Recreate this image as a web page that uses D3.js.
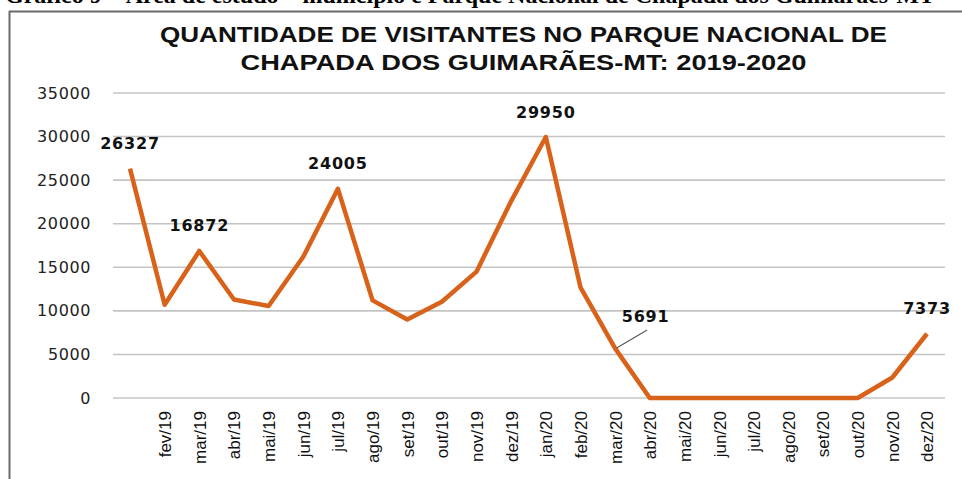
<!DOCTYPE html>
<html>
<head>
<meta charset="utf-8">
<script src="https://cdn.jsdelivr.net/npm/d3@7"></script>
<style>
  body { margin: 0; background: #fff; }
  svg { display: block; }
</style>
</head>
<body>
<svg width="962" height="479"></svg>
<script>
// meses (jan/19 sem rotulo no eixo, como no original)
const meses = ["jan/19", "fev/19", "mar/19", "abr/19", "mai/19", "jun/19", "jul/19", "ago/19",
  "set/19", "out/19", "nov/19", "dez/19", "jan/20", "feb/20", "mar/20", "abr/20", "mai/20",
  "jun/20", "jul/20", "ago/20", "set/20", "out/20", "nov/20", "dez/20"]
const rotulosEixo = ["", "fev/19", "mar/19", "abr/19", "mai/19", "jun/19", "jul/19", "ago/19",
  "set/19", "out/19", "nov/19", "dez/19", "jan/20", "feb/20", "mar/20", "abr/20", "mai/20",
  "jun/20", "jul/20", "ago/20", "set/20", "out/20", "nov/20", "dez/20"]
const visitantes = [26327, 10700, 16872, 11300, 10550, 16200, 24005, 11200, 9000, 11050, 14500, 22600,
  29950, 12700, 5691, 0, 0, 0, 0, 0, 0, 0, 2350, 7373]
const yTicks = [0, 5000, 10000, 15000, 20000, 25000, 30000, 35000]
// meses com rotulo de valor
const comRotulo = ["jan/19", "mar/19", "jul/19", "jan/20", "mar/20", "dez/20"]

const titulo = ["QUANTIDADE DE VISITANTES NO PARQUE NACIONAL DE", "CHAPADA DOS GUIMARÃES-MT: 2019-2020"]

const svg = d3.select("svg")

const data = meses.map((m, i) => ({ mes: m, valor: visitantes[i] }))

// legenda da figura, cortada no topo como no original
svg.append("text")
  .attr("x", 5)
  .attr("y", 3)
  .style("font-family", "Liberation Serif, serif")
  .style("font-weight", "bold")
  .style("font-size", "24px")
  .text("Gráfico 9 – Área de estudo – município e Parque Nacional de Chapada dos Guimarães-MT")

// moldura
svg.append("line").attr("x1", 9).attr("x2", 962).attr("y1", 11.5).attr("y2", 11.5)
  .attr("stroke", "#6a6a6a").attr("stroke-width", 2)
svg.append("line").attr("x1", 9.5).attr("x2", 9.5).attr("y1", 11).attr("y2", 479)
  .attr("stroke", "#6a6a6a").attr("stroke-width", 2)

// titulo
const larguras = [727, 566]
titulo.forEach((t, i) => {
  svg.append("text")
    .attr("x", 523.5)
    .attr("y", 42 + i * 27.5)
    .attr("text-anchor", "middle")
    .attr("textLength", larguras[i])
    .attr("lengthAdjust", "spacingAndGlyphs")
    .style("font-family", "Liberation Sans Narrow, Liberation Sans, sans-serif")
    .style("font-weight", "bold")
    .style("font-size", "21.5px")
    .style("fill", "#111")
    .text(t)
})

const x = d3.scalePoint()
  .domain(meses)
  .range([130, 927])

const y = d3.scaleLinear()
  .domain([0, 35000])
  .range([398, 93])

// grade horizontal
svg.append("g")
  .selectAll("line")
  .data(yTicks)
  .join("line")
  .attr("x1", 113)
  .attr("x2", 945)
  .attr("y1", d => y(d))
  .attr("y2", d => y(d))
  .attr("stroke", "#c4c4c4")
  .attr("stroke-width", 1.6)

// eixo y
const yAxis = d3.axisLeft(y).tickValues(yTicks).tickFormat(d3.format("d")).tickSize(0).tickPadding(0)
const gy = svg.append("g").attr("transform", "translate(91,0)").call(yAxis)
gy.select(".domain").remove()
gy.selectAll("text")
  .style("font-family", "DejaVu Sans, Verdana, sans-serif")
  .style("font-size", "16px")
  .style("letter-spacing", "0.6px")
  .style("fill", "#222")

// eixo x
const xAxis = d3.axisBottom(x).tickSize(0).tickFormat((d, i) => rotulosEixo[i])
const gx = svg.append("g").attr("transform", "translate(0,398)").call(xAxis)
gx.select(".domain").remove()
gx.selectAll("text")
  .attr("transform", "rotate(-90)")
  .attr("x", -13)
  .attr("y", 0)
  .attr("dy", "0.35em")
  .attr("text-anchor", "end")
  .style("font-family", "Liberation Sans, Arial, sans-serif")
  .style("font-size", "17px")
  .style("fill", "#111")

// linha
const linha = d3.line()
  .x(d => x(d.mes))
  .y(d => y(d.valor))

svg.append("path")
  .datum(data)
  .attr("d", linha)
  .attr("fill", "none")
  .attr("stroke", "#d8621a")
  .attr("stroke-width", 4.5)
  .attr("stroke-linejoin", "round")

// rotulos de valor
const rotulados = data.filter(d => comRotulo.includes(d.mes))
const deslocado = "mar/20"

// linha de chamada do rotulo deslocado
const pd = data.find(d => d.mes === deslocado)
svg.append("line")
  .attr("x1", x(pd.mes) + 1.5)
  .attr("y1", y(pd.valor) - 0.5)
  .attr("x2", x(pd.mes) + 32)
  .attr("y2", y(pd.valor) - 18.5)
  .attr("stroke", "#595959")
  .attr("stroke-width", 1.2)

svg.append("g")
  .selectAll("text")
  .data(rotulados)
  .join("text")
  .attr("x", d => x(d.mes) + (d.mes === deslocado ? 30.5 : 0))
  .attr("y", d => y(d.valor) - (d.mes === deslocado ? 26.5 : 19.5))
  .attr("text-anchor", "middle")
  .style("font-family", "DejaVu Sans, Verdana, sans-serif")
  .style("font-weight", "bold")
  .style("font-size", "16px")
  .style("letter-spacing", "0.8px")
  .style("fill", "#111")
  .text(d => d.valor)
</script>
</body>
</html>
